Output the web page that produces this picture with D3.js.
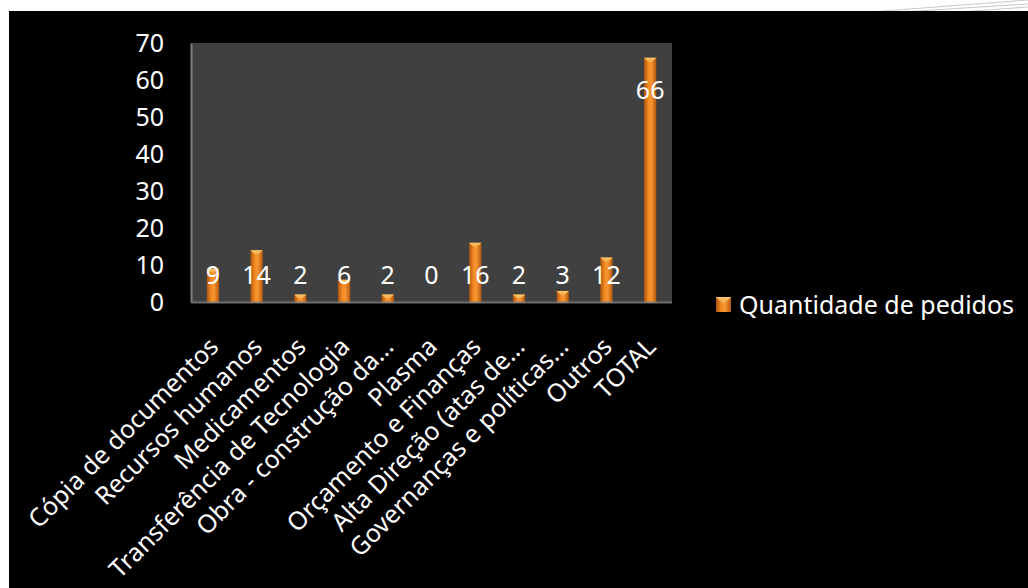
<!DOCTYPE html>
<html>
<head>
<meta charset="utf-8">
<script src="https://cdn.jsdelivr.net/npm/d3@7"></script>
<style>
  html, body { margin: 0; padding: 0; background: #fff; }
  svg { display: block; }
  text { font-family: "Noto Sans", "Open Sans", sans-serif; fill: #fff; }
</style>
</head>
<body>
<script>
// chart data
const categories = [
  "Cópia de documentos", "Recursos humanos", "Medicamentos",
  "Transferência de Tecnologia", "Obra - construção da...", "Plasma",
  "Orçamento e Finanças", "Alta Direção (atas de...", "Governanças e políticas...",
  "Outros", "TOTAL"
];
const values = [9, 14, 2, 6, 2, 0, 16, 2, 3, 12, 66];
const yTicks = [0, 10, 20, 30, 40, 50, 60, 70];
const seriesName = "Quantidade de pedidos";

const W = 1028, H = 588;
const plot = { left: 191, right: 672, top: 43, bottom: 302 };

const svg = d3.select("body").append("svg")
  .attr("width", W).attr("height", H);

// slide background: white strip on top, black panel
svg.append("rect").attr("width", W).attr("height", H).attr("fill", "#fff");
const deco = svg.append("g").attr("stroke", "#c8c8c8").attr("stroke-width", 1).attr("fill", "none");
deco.append("path").attr("d", "M870,12 L1028,0");
deco.append("path").attr("d", "M900,12 L1028,4");
deco.append("path").attr("d", "M960,12 L1028,7");
svg.append("rect").attr("x", 9).attr("y", 11).attr("width", W - 9).attr("height", H - 11).attr("fill", "#000");

// gradients for the bars
const defs = svg.append("defs");
const grad = defs.append("linearGradient").attr("id", "barGrad")
  .attr("x1", "0%").attr("x2", "100%").attr("y1", "0%").attr("y2", "0%");
grad.append("stop").attr("offset", "0%").attr("stop-color", "#a9520f");
grad.append("stop").attr("offset", "35%").attr("stop-color", "#f38a22");
grad.append("stop").attr("offset", "60%").attr("stop-color", "#f79531");
grad.append("stop").attr("offset", "100%").attr("stop-color", "#b5580f");

const capGrad = defs.append("linearGradient").attr("id", "capGrad")
  .attr("x1", "0%").attr("x2", "0%").attr("y1", "0%").attr("y2", "100%");
capGrad.append("stop").attr("offset", "0%").attr("stop-color", "#fbc86a");
capGrad.append("stop").attr("offset", "100%").attr("stop-color", "#f2a040");

// scales
const x = d3.scaleBand().domain(categories).range([plot.left, plot.right]).paddingInner(0.72).paddingOuter(0.36);
const y = d3.scaleLinear().domain([0, 70]).range([plot.bottom, plot.top]);

// plot area
svg.append("rect")
  .attr("x", plot.left).attr("y", plot.top)
  .attr("width", plot.right - plot.left).attr("height", plot.bottom - plot.top)
  .attr("fill", "#404040");

// y axis
const yAxis = svg.append("g")
  .attr("transform", `translate(${plot.left},0)`)
  .call(d3.axisLeft(y).tickValues(yTicks).tickSize(0).tickPadding(27));
yAxis.select(".domain").attr("stroke", "#7f7f7f").attr("stroke-width", 2);
yAxis.selectAll("text").style("font-size", "25px").attr("fill", "#fff");

// bars
const bw = x.bandwidth();
const bars = svg.append("g").selectAll("g")
  .data(values.map((v, i) => ({ c: categories[i], v })).filter(d => d.v > 0))
  .join("g");

bars.append("rect")
  .attr("x", d => x(d.c))
  .attr("y", d => y(d.v))
  .attr("width", bw)
  .attr("height", d => y(0) - y(d.v) + 1)
  .attr("fill", "url(#barGrad)");

bars.append("path")
  .attr("d", d => {
    const x0 = x(d.c), x1 = x0 + bw, t = y(d.v), m = x0 + bw / 2;
    return `M${x0},${t} L${x1},${t} L${x1 - 2},${t + 2} L${m},${t + 5} L${x0 + 2},${t + 2} Z`;
  })
  .attr("fill", "url(#capGrad)");

// x axis line
svg.append("line")
  .attr("x1", plot.left).attr("x2", plot.right)
  .attr("y1", plot.bottom + 0.5).attr("y2", plot.bottom + 0.5)
  .attr("stroke", "#7f7f7f").attr("stroke-width", 2).attr("stroke-opacity", 0.85);

// data labels
svg.append("g").selectAll("text")
  .data(values.map((v, i) => ({ c: categories[i], v })))
  .join("text")
  .attr("x", d => x(d.c) + bw / 2)
  .attr("y", d => Math.min(y(d.v) + 32, 275))
  .attr("dy", "0.35em")
  .attr("text-anchor", "middle")
  .style("font-size", "25px")
  .text(d => d.v);

// x axis labels
const xAxis = svg.append("g")
  .attr("transform", `translate(0,${plot.bottom})`)
  .call(d3.axisBottom(x).tickSize(0).tickPadding(0));
xAxis.select(".domain").remove();
xAxis.selectAll(".tick text")
  .attr("transform", "translate(1,40) rotate(-45)")
  .attr("text-anchor", "end")
  .attr("dy", "0.35em")
  .attr("y", 0)
  .attr("fill", "#fff")
  .style("font-size", "25px");

// legend
const lg = svg.append("g").attr("transform", "translate(716,297)");
lg.append("rect").attr("width", 15).attr("height", 15).attr("fill", "url(#barGrad)");
lg.append("path").attr("d", "M0,0 L15,0 L12,3 L7.5,7 L3,3 Z").attr("fill", "url(#capGrad)");
lg.append("text").attr("x", 23).attr("y", 8).attr("dy", "0.35em")
  .style("font-size", "25px").text(seriesName);
</script>
</body>
</html>
